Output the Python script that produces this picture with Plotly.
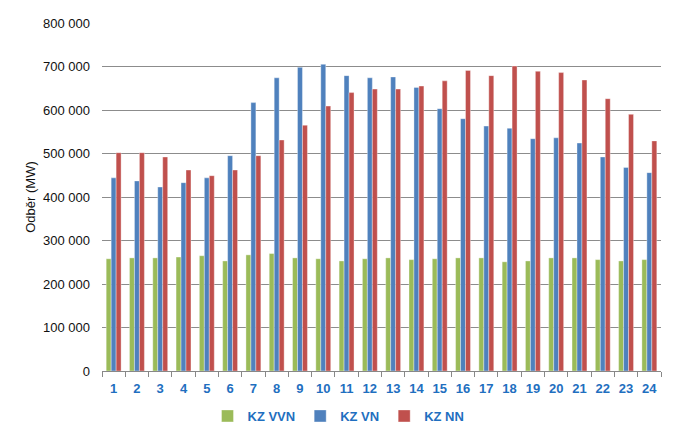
import plotly.graph_objects as go

hours = [str(i) for i in range(1, 25)]
kz_vvn = [258000, 260000, 260000, 262000, 265000, 253000, 267000, 270000, 260000, 258000, 253000, 258000,
          260000, 256000, 258000, 260000, 260000, 251000, 253000, 260000, 260000, 256000, 253000, 256000]
kz_vn = [444000, 437000, 423000, 433000, 444000, 495000, 617000, 674000, 698000, 705000, 679000, 674000,
         676000, 652000, 603000, 580000, 563000, 558000, 534000, 536000, 524000, 492000, 468000, 456000]
kz_nn = [502000, 502000, 492000, 462000, 449000, 462000, 495000, 531000, 565000, 609000, 640000, 648000,
         648000, 655000, 667000, 691000, 679000, 701000, 689000, 686000, 669000, 626000, 590000, 529000]

series = [("KZ VVN", kz_vvn, "#9bbb59"), ("KZ VN", kz_vn, "#4f81bd"), ("KZ NN", kz_nn, "#c0504d")]

fig = go.Figure()
for name, vals, col in series:
    fig.add_trace(go.Bar(x=hours, y=vals, name=name,
                         marker=dict(color=col, line=dict(color="rgba(255,255,255,0.6)", width=0.6))))

fig.update_layout(
    width=677, height=441,
    margin=dict(l=102, r=16, t=23, b=70, autoexpand=False),
    paper_bgcolor="white", plot_bgcolor="white",
    barmode="group", bargap=0.36, bargroupgap=0.0,
    separators=". ",
    font=dict(family="Liberation Sans, Arial", size=13, color="#111"),
    showlegend=True,
    legend=dict(orientation="h", x=0.5, xref="container", xanchor="center",
                y=25 / 441, yref="container", yanchor="middle",
                font=dict(color="#1f6fc0", size=13, family="Liberation Sans, Arial", weight="bold"),
                itemwidth=30, tracegroupgap=0),
)
fig.update_xaxes(type="category", showline=True, linecolor="#888", linewidth=1,
                 ticks="outside", tickson="boundaries", ticklen=5, tickcolor="#888",
                 ticklabelstandoff=5, tickangle=0,
                 tickfont=dict(color="#1f6fc0", size=13, family="Liberation Sans, Arial", weight="bold"),
                 showgrid=False)
fig.update_yaxes(range=[0, 800000], dtick=100000, tickformat=",d", showgrid=True, gridcolor="#8c8c8c",
                 gridwidth=1, showline=False, zeroline=False, ticks="", ticklabelstandoff=11,
                 tickfont=dict(size=13, color="#111"),
                 title=dict(text="Odběr (MW)", font=dict(size=13, color="#111"), standoff=4))

fig.write_html("out.html")
